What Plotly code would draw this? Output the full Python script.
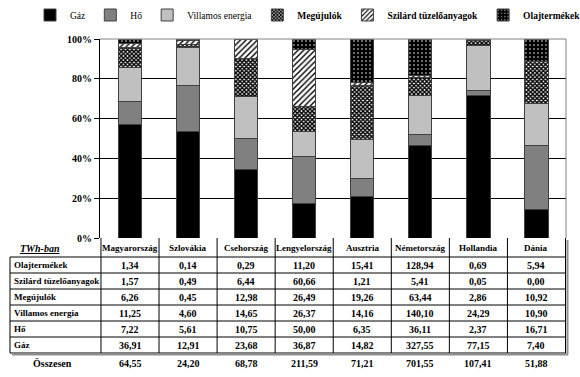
import plotly.graph_objects as go

countries = ["Magyarország", "Szlovákia", "Csehország", "Lengyelország",
             "Ausztria", "Németország", "Hollandia", "Dánia"]
gaz = [36.91, 12.91, 23.68, 36.87, 14.82, 327.55, 77.15, 7.40]
ho = [7.22, 5.61, 10.75, 50.00, 6.35, 36.11, 2.37, 16.71]
villamos = [11.25, 4.60, 14.65, 26.37, 14.16, 140.10, 24.29, 10.90]
megujulok = [6.26, 0.45, 12.98, 26.49, 19.26, 63.44, 2.86, 10.92]
szilard = [1.57, 0.49, 6.44, 60.66, 1.21, 5.41, 0.05, 0.00]
olaj = [1.34, 0.14, 0.29, 11.20, 15.41, 128.94, 0.69, 5.94]
osszesen = [64.55, 24.20, 68.78, 211.59, 71.21, 701.55, 107.41, 51.88]
y_tick_vals = [0, 20, 40, 60, 80, 100]
y_tick_text = ["0%", "20%", "40%", "60%", "80%", "100%"]

series = [
    ("Gáz", gaz),
    ("Hő", ho),
    ("Villamos energia", villamos),
    ("Megújulók", megujulok),
    ("Szilárd tüzelőanyagok", szilard),
    ("Olajtermékek", olaj),
]
table_rows = [
    ("Olajtermékek", olaj),
    ("Szilárd tüzelőanyagok", szilard),
    ("Megújulók", megujulok),
    ("Villamos energia", villamos),
    ("Hő", ho),
    ("Gáz", gaz),
]

W, H = 580, 377
ML, MR, MT, MB = 100, 14, 39, 139
PW = W - ML - MR
PH = H - MT - MB
FONT = "Liberation Serif"


def py(p):
    return (H - MB - p) / PH


def px(p):
    return (p - ML) / PW


styles = {
    "Gáz": dict(color="#000000"),
    "Hő": dict(color="#808080"),
    "Villamos energia": dict(color="#c0c0c0"),
    "Megújulók": dict(color="#808080", pattern=dict(shape="x", bgcolor="#ffffff", fgcolor="#000000",
                                                   size=3, solidity=0.7, fillmode="replace")),
    "Szilárd tüzelőanyagok": dict(color="#ffffff", pattern=dict(shape="/", bgcolor="#ffffff", fgcolor="#000000",
                                                               size=4, solidity=0.35, fillmode="replace")),
    "Olajtermékek": dict(color="#000000", pattern=dict(shape=".", bgcolor="#000000", fgcolor="#ffffff",
                                                      size=4, solidity=0.12, fillmode="replace")),
}
bold_names = {"Megújulók", "Szilárd tüzelőanyagok", "Olajtermékek"}

fig = go.Figure()
for name, vals in series:
    m = dict(styles[name])
    m["line"] = dict(color="#404040", width=1)
    fig.add_trace(go.Bar(
        x=countries, y=vals,
        name=("<b>%s</b>" % name) if name in bold_names else name,
        marker=m,
    ))

fig.update_layout(
    width=W, height=H,
    margin=dict(l=ML, r=MR, t=MT, b=MB, autoexpand=False),
    barmode="stack", barnorm="percent", bargap=0.6,
    plot_bgcolor="#ffffff", paper_bgcolor="#ffffff",
    font=dict(family=FONT, size=10, color="#000000"),
    showlegend=True,
    legend=dict(orientation="h", x=px(30), xanchor="left", y=py(15), yanchor="middle",
                font=dict(family=FONT, size=9.5), itemwidth=30, tracegroupgap=0, borderwidth=0,
                traceorder="normal", bgcolor="rgba(0,0,0,0)"),
    xaxis=dict(showticklabels=False, showgrid=False, zeroline=False, showline=False, ticks=""),
    yaxis=dict(range=[0, 100], tickvals=y_tick_vals, ticktext=y_tick_text,
               showgrid=True, gridcolor="#000000", gridwidth=1, zeroline=False,
               showline=True, linecolor="#000000", linewidth=1, ticks="outside",
               ticklen=5, tickcolor="#000000",
               tickfont=dict(family=FONT, size=10, weight="bold"), layer="below traces"),
)

shapes = []
shapes.append(dict(type="line", xref="paper", yref="paper", x0=0, x1=1, y0=1, y1=1,
                   line=dict(color="#808080", width=1)))
shapes.append(dict(type="line", xref="paper", yref="paper", x0=1, x1=1, y0=0, y1=1,
                   line=dict(color="#808080", width=1)))

n = len(countries)
row_h = 16
header_top = H - MB
first_row_top = 257
table_bottom = first_row_top + row_h * len(table_rows)

for k in range(n + 1):
    shapes.append(dict(type="line", xref="x", yref="paper", x0=k - 0.5, x1=k - 0.5,
                       y0=py(header_top), y1=py(table_bottom),
                       line=dict(color="#000000", width=1)))
shapes.append(dict(type="line", xref="paper", yref="paper", x0=px(10), x1=px(10),
                   y0=py(first_row_top), y1=py(table_bottom), line=dict(color="#000000", width=1)))
for r in range(len(table_rows) + 1):
    yy = py(first_row_top + r * row_h)
    shapes.append(dict(type="line", xref="paper", yref="paper", x0=px(10), x1=1,
                       y0=yy, y1=yy, line=dict(color="#000000", width=1)))
shapes.append(dict(type="line", xref="paper", yref="paper", x0=px(12), x1=px(W - MR + 2),
                   y0=py(table_bottom + 1.5), y1=py(table_bottom + 1.5), line=dict(color="#909090", width=2)))
shapes.append(dict(type="line", xref="paper", yref="paper", x0=px(W - MR + 1.5), x1=px(W - MR + 1.5),
                   y0=py(header_top + 2), y1=py(table_bottom + 2), line=dict(color="#909090", width=2)))
fig.update_layout(shapes=shapes)


def fmt(v):
    return ("%.2f" % v).replace(".", ",")


ann = []
ann.append(dict(text="<b><i><u>TWh-ban</u></i></b>", xref="paper", yref="paper", x=px(40), y=py(248),
                showarrow=False, font=dict(family=FONT, size=10), xanchor="center", yanchor="middle"))
for c in countries:
    ann.append(dict(text="<b>%s</b>" % c, xref="x", yref="paper", x=c, y=py(248),
                    showarrow=False, font=dict(family=FONT, size=9), xanchor="center", yanchor="middle"))
for r, (label, vals) in enumerate(table_rows):
    yc = py(first_row_top + r * row_h + row_h / 2)
    ann.append(dict(text="<b>%s</b>" % label, xref="paper", yref="paper", x=px(12), y=yc,
                    showarrow=False, font=dict(family=FONT, size=9), xanchor="left", yanchor="middle"))
    for c, v in zip(countries, vals):
        ann.append(dict(text="<b>%s</b>" % fmt(v), xref="x", yref="paper", x=c, y=yc,
                        showarrow=False, font=dict(family=FONT, size=10), xanchor="center", yanchor="middle"))
yt = py(table_bottom + 10)
ann.append(dict(text="<b>Összesen</b>", xref="paper", yref="paper", x=px(52), y=yt,
                showarrow=False, font=dict(family=FONT, size=10), xanchor="center", yanchor="middle"))
for c, v in zip(countries, osszesen):
    ann.append(dict(text="<b>%s</b>" % fmt(v), xref="x", yref="paper", x=c, y=yt,
                    showarrow=False, font=dict(family=FONT, size=10), xanchor="center", yanchor="middle"))
fig.update_layout(annotations=ann)

fig.write_html("out.html", config={"displayModeBar": False},
               post_script="document.body.style.margin='0px';")
